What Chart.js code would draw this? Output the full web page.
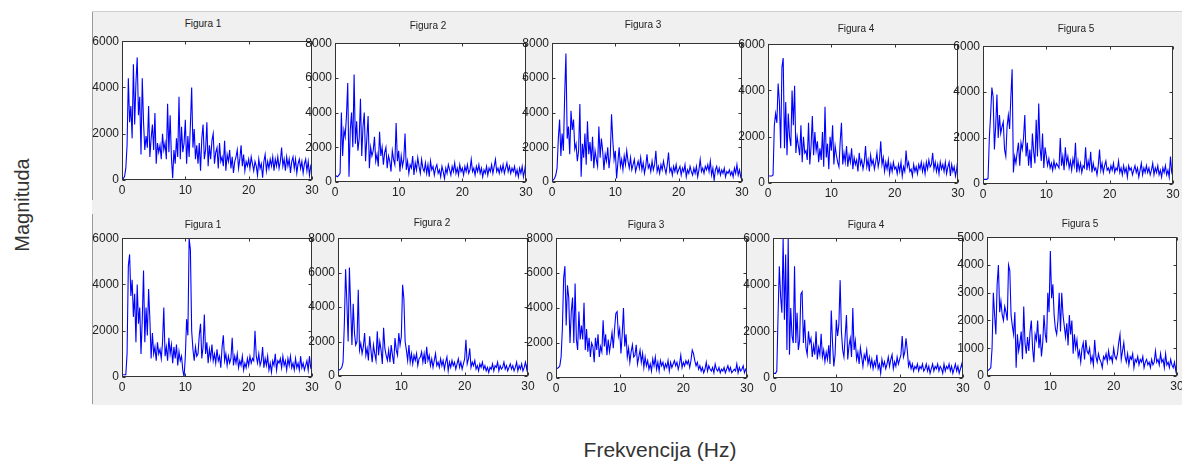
<!DOCTYPE html>
<html>
<head>
<meta charset="utf-8">
<script src="https://cdn.jsdelivr.net/npm/chart.js@4/dist/chart.umd.min.js"></script>
<style>
  html, body { margin:0; padding:0; }
  body { width:1182px; height:466px; background:#fff; position:relative; overflow:hidden; font-family:"Liberation Sans", Arial, sans-serif; }
  .bg { position:absolute; background:#f0f0f0; }
  canvas { position:absolute; }
  .ttl { position:absolute; font-size:10px; color:#222; transform:translate(-50%,-50%); white-space:nowrap; }
  #ylab { position:absolute; left:22px; top:205px; transform:translate(-50%,-50%) rotate(-90deg); font-size:20px; color:#333; white-space:nowrap; }
  #xlab { position:absolute; left:660px; top:450px; transform:translate(-50%,-50%); font-size:21px; color:#333; white-space:nowrap; }
</style>
</head>
<body>
<div class="bg" style="left:92px;top:11px;width:1090px;height:393px;border-top:1px solid #cfcfcf;"></div>
<div class="bg" style="left:92px;top:12px;width:1px;height:188px;background:#9a9a9a;"></div>
<div class="bg" style="left:92px;top:214px;width:1px;height:190px;background:#9a9a9a;"></div>
<div id="ylab">Magnituda</div>
<div id="xlab">Frekvencija (Hz)</div>
<script>
const freq = [0,0.2,0.4,0.6,0.8,1,1.2,1.4,1.6,1.8,2,2.2,2.4,2.6,2.8,3,3.2,3.4,3.6,3.8,4,4.2,4.4,4.6,4.8,5,5.2,5.4,5.6,5.8,6,6.2,6.4,6.6,6.8,7,7.2,7.4,7.6,7.8,8,8.2,8.4,8.6,8.8,9,9.2,9.4,9.6,9.8,10,10.2,10.4,10.6,10.8,11,11.2,11.4,11.6,11.8,12,12.2,12.4,12.6,12.8,13,13.2,13.4,13.6,13.8,14,14.2,14.4,14.6,14.8,15,15.2,15.4,15.6,15.8,16,16.2,16.4,16.6,16.8,17,17.2,17.4,17.6,17.8,18,18.2,18.4,18.6,18.8,19,19.2,19.4,19.6,19.8,20,20.2,20.4,20.6,20.8,21,21.2,21.4,21.6,21.8,22,22.2,22.4,22.6,22.8,23,23.2,23.4,23.6,23.8,24,24.2,24.4,24.6,24.8,25,25.2,25.4,25.6,25.8,26,26.2,26.4,26.6,26.8,27,27.2,27.4,27.6,27.8,28,28.2,28.4,28.6,28.8,29,29.2,29.4,29.6,29.8,30];

const titles = ["Figura 1","Figura 2","Figura 3","Figura 4","Figura 5","Figura 1","Figura 2","Figura 3","Figura 4","Figura 5"];
const yMax = [6000,8000,8000,6000,6000,6000,8000,8000,6000,5000];
const yStep = [2000,2000,2000,2000,2000,2000,2000,2000,2000,1000];
const xTicks = [0,10,20,30];

const top1 = [50,60,150,500,1500,4400,2500,3200,1800,5000,
 2400,4200,5300,2800,3600,1100,4400,2500,1300,1900,
 1400,3200,1000,1800,2400,1300,2900,700,1600,1200,
 1500,900,2000,1300,1600,900,3300,1200,2800,1000,
 80,1300,700,1800,1000,3600,900,2300,1200,1600,
 2600,700,1900,1000,2400,4000,1400,2200,900,1500,
 700,1600,400,1800,2400,900,1300,2500,600,1500,
 900,1700,2000,700,1200,1400,500,1600,800,1000,
 600,1700,400,1100,800,1300,500,1000,300,800,
 1000,1300,500,900,1500,600,1100,400,800,600,
 900,500,1000,700,400,800,600,200,900,500,
 700,100,800,1100,400,800,500,900,600,1000,
 400,900,600,1000,500,800,1400,600,900,400,
 1000,600,900,300,800,1000,500,900,300,700,
 900,500,800,300,700,900,400,800,200,600,
 400];
const top2 = [300,350,300,400,500,4000,1500,3000,2600,3800,
 5700,300,3000,4000,2000,6200,2200,3500,1800,2500,
 4800,1500,3200,4000,1200,2500,3800,800,2000,1500,
 1800,2600,1200,1600,900,2900,1500,2000,1000,1700,
 2000,800,1500,1200,600,1800,1300,1000,3400,1200,
 1800,600,1500,900,1300,2800,700,1200,500,1000,
 800,1500,400,1100,700,1400,900,500,1300,800,
 600,1100,500,1000,300,1200,700,900,400,800,
 1000,500,700,300,900,600,200,800,500,1000,
 700,400,900,600,1100,500,800,400,1000,600,
 800,400,900,600,1000,500,700,1300,600,800,
 400,900,600,1000,500,800,300,700,500,900,
 400,800,600,1000,500,900,1300,600,800,500,
 900,600,1000,500,800,1100,600,900,500,800,
 600,900,400,700,300,800,500,900,300,700,
 1200];
const top3 = [100,120,200,400,800,2500,3600,1500,2800,1800,
 5000,7400,2500,3200,1600,4100,3000,3600,1900,2200,
 1200,1800,4500,300,2200,1400,2800,1000,3500,1600,
 2300,1200,2600,800,1800,1300,900,3200,1400,2500,
 1800,700,1600,1200,2000,800,1500,3900,2400,1300,
 1800,200,1100,2000,900,1300,700,1500,1000,1800,
 1200,800,1400,700,1000,1300,600,900,1200,800,
 1400,700,1100,500,900,1600,800,1000,600,1200,
 700,1000,1800,600,900,500,1000,700,1200,800,
 500,1000,1700,600,800,400,900,600,1000,500,
 700,900,400,800,600,1000,300,700,500,900,
 600,400,800,500,900,300,700,1300,600,800,
 500,900,700,1000,600,1200,400,800,100,700,
 900,500,800,400,700,500,800,300,600,500,
 700,400,600,300,800,500,1000,400,700,300,
 500];
const top4 = [300,300,300,300,350,2500,3000,2600,4300,3500,
 1500,5000,5400,1500,3500,1200,3000,2000,1600,4000,
 2500,4200,1300,2000,1600,1200,2500,900,2000,1300,
 1400,1000,2600,800,1600,2900,1200,2200,1400,1800,
 900,1500,1000,2200,700,3300,1100,1700,600,2000,
 1400,2500,800,1600,1200,900,700,1800,2600,800,
 1300,900,1600,700,1200,900,1500,600,1100,800,
 1000,500,1300,800,1000,600,900,1600,700,1000,
 500,1200,800,1000,600,900,1300,700,1000,1800,
 800,1100,500,900,600,1000,400,800,500,900,
 600,700,400,800,500,900,300,700,500,1400,
 700,900,500,600,300,800,500,700,400,800,
 600,900,500,800,400,900,600,1000,700,800,
 1300,600,900,500,800,400,900,600,800,500,
 900,400,700,900,300,800,500,700,300,600,
 1100];
const top5 = [200,200,200,200,250,2000,3000,4200,3800,1500,
 2500,3900,2000,3000,2200,2500,2700,1500,1200,2500,
 3000,2400,3800,5000,500,1200,900,1400,1800,800,
 1800,1500,2000,3000,1200,1800,800,1500,700,2200,
 1400,900,2800,1200,3500,1600,1000,2200,700,1600,
 1200,800,1100,700,900,600,1000,700,900,800,
 700,2000,800,1200,600,1600,900,1200,700,1000,
 600,1100,800,1800,500,1000,600,900,500,800,
 700,1600,600,1000,700,1400,500,900,600,700,
 400,800,1500,600,900,500,800,1000,600,700,
 500,800,600,900,500,700,600,1000,500,700,
 400,800,500,700,300,800,600,700,400,600,
 800,500,700,300,600,900,400,700,500,800,
 500,700,400,600,900,400,700,500,800,400,
 600,300,700,500,800,400,600,300,1200,500,
 300];
const bot1 = [100,100,100,100,1000,4800,5300,3500,4200,2600,
 3600,1500,4000,2300,3000,1000,2500,4600,1500,3000,
 1800,3800,2500,800,1900,1000,1300,700,1500,1000,
 1200,800,1500,3000,900,1300,700,1700,1000,1400,
 600,1300,800,1400,500,1100,700,900,300,0,
 900,2500,1800,6000,5500,2000,1200,700,1300,900,
 1000,1800,2300,800,1300,2700,1000,1500,600,1200,
 800,1400,700,1000,600,1200,700,900,400,1300,
 1800,700,1000,500,900,600,800,1700,500,900,
 600,1000,400,700,500,900,300,600,400,800,
 500,900,600,800,700,2000,900,600,1000,500,
 700,1300,400,800,500,900,300,600,200,700,
 500,1000,300,700,600,800,400,900,500,700,
 300,800,500,900,400,600,300,800,400,600,
 300,900,400,600,300,500,700,300,900,400,
 500];
const bot2 = [300,350,400,500,800,3000,6200,4300,2000,6300,
 4000,1800,4200,2500,1800,2000,5000,1500,1900,1300,
 1700,2500,1200,1600,900,2300,1500,800,1800,1300,
 900,2600,1200,2000,1500,700,2800,1600,1200,900,
 1500,800,1800,1200,700,2200,1500,1200,2500,1800,
 2300,5300,4500,2000,1500,900,1800,800,1300,700,
 1200,900,1300,600,1000,1100,1400,800,1300,700,
 1700,900,1200,600,1000,500,900,1300,600,800,
 500,1000,600,900,400,800,1100,300,800,500,
 900,600,800,400,700,1000,500,800,400,700,
 1000,2100,700,1000,1600,500,800,600,900,400,
 600,300,700,500,800,400,600,300,500,200,
 500,400,700,300,600,500,800,300,600,400,
 500,800,400,600,300,500,700,400,600,300,
 500,800,300,600,400,700,300,500,800,400,
 900];
const bot3 = [500,550,600,700,1200,2800,5700,6400,3000,5300,
 4600,2000,3800,4600,2000,5400,2200,1600,3800,2200,
 3000,2200,4300,1600,2800,1500,2300,1200,2000,1800,
 900,2300,1600,2500,1200,1800,1500,3300,1800,2500,
 1300,2200,1500,2000,2600,1700,2800,3700,3800,2400,
 2800,1400,2500,4000,1800,2500,1200,1700,900,1500,
 1900,1200,1300,1900,800,1200,1600,900,1400,600,
 1200,700,1000,500,800,400,1100,700,1200,500,
 900,400,1000,700,900,500,800,600,1000,400,
 900,600,800,1000,700,900,500,800,1300,600,
 900,700,1000,800,1000,600,1000,1600,1400,1000,
 700,900,500,700,400,600,300,500,900,400,
 700,500,400,600,300,800,500,400,600,300,
 500,400,600,300,500,700,400,600,300,400,
 500,400,800,300,600,400,500,700,300,500,
 400];
const bot4 = [200,200,200,300,2700,4800,3500,2800,6000,2500,
 5300,1200,6000,1000,3000,1800,1500,4800,1500,2800,
 1200,1600,3600,3700,1500,2500,1300,1000,2000,1500,
 1700,900,1400,1000,2000,800,1300,1000,1900,900,
 1200,700,1100,800,1400,600,2900,1500,500,1000,
 2500,1800,2300,4200,2000,1200,900,1800,2700,800,
 1400,1700,900,3000,1200,1600,800,1100,600,1300,
 900,500,1000,800,1200,600,900,500,800,400,
 700,500,1000,400,600,200,800,500,700,400,
 600,900,500,800,1000,400,700,500,900,600,
 800,1000,1800,900,1100,1700,1200,500,700,400,
 600,300,500,400,600,300,500,400,600,300,
 400,600,300,500,200,400,600,300,500,400,
 600,300,500,400,200,600,300,500,400,600,
 300,500,200,400,600,300,500,200,400,600,
 300];
const bot5 = [200,200,250,300,1000,3000,2200,1500,3300,4000,
 2300,2700,2200,2000,2500,2300,2000,4000,3800,2200,
 1800,1500,2300,300,1500,900,1200,1600,600,2500,
 1200,800,1400,900,1600,2000,1000,500,1500,1300,
 2000,1000,1500,700,1200,2200,1500,1200,3000,2300,
 4500,2800,3300,2200,1700,1500,2000,3000,1600,3000,
 2200,1800,1400,1900,1100,2200,1500,2000,800,1500,
 1000,1300,700,900,500,1000,1200,600,1300,900,
 800,1000,500,700,400,1300,700,500,800,600,
 500,300,700,600,800,500,900,600,700,500,
 1000,700,600,800,1200,1500,600,900,1200,700,
 500,800,400,700,600,800,300,600,500,700,
 400,600,500,700,300,500,600,400,500,300,
 600,400,500,900,500,600,400,800,500,600,
 300,800,400,500,300,600,400,300,500,200,
 500];

const series = [top1, top2, top3, top4, top5, bot1, bot2, bot3, bot4, bot5];

// plot-area rectangles [left, top, right, bottom] and title centres
const areas = [
  [122,41,312,180],[335,43,526,182],[552,43,742,182],[768,44,958,183],[983,46,1173,184],
  [122,238,312,377],[338,238,528,376],[556,238,747,378],[773,238,963,378],[987,237,1177,376]
];
const titlePos = [
  [203,23],[428,25],[643,24],[856,28],[1076,28],
  [203,224],[432,222],[646,224],[866,224],[1080,223]
];

const YW = 40, XH = 20, PT = 10, PR = 12;

const framePlugin = {
  id: 'frameBox',
  beforeDraw(c) {
    const a = c.chartArea, ctx = c.ctx;
    ctx.save();
    ctx.fillStyle = '#ffffff';
    ctx.fillRect(a.left, a.top, a.right - a.left, a.bottom - a.top);
    ctx.restore();
  },
  afterDraw(c) {
    const a = c.chartArea, ctx = c.ctx;
    const L = Math.round(a.left) + 0.5, R = Math.round(a.right) - 0.5;
    const T = Math.round(a.top) + 0.5, B = Math.round(a.bottom) - 0.5;
    ctx.save();
    ctx.strokeStyle = '#333333';
    ctx.lineWidth = 1;
    ctx.strokeRect(L, T, R - L, B - T);
    ctx.beginPath();
    c.scales.x.ticks.forEach(t => {
      const px = Math.round(c.scales.x.getPixelForValue(t.value)) + 0.5;
      ctx.moveTo(px, B); ctx.lineTo(px, B - 3);
      ctx.moveTo(px, T); ctx.lineTo(px, T + 3);
    });
    c.scales.y.ticks.forEach(t => {
      const py = Math.round(c.scales.y.getPixelForValue(t.value)) + 0.5;
      ctx.moveTo(L, py); ctx.lineTo(L + 3, py);
      ctx.moveTo(R, py); ctx.lineTo(R - 3, py);
    });
    ctx.stroke();
    ctx.restore();
  }
};

series.forEach((vals, k) => {
  const [l, t, r, b] = areas[k];
  const cv = document.createElement('canvas');
  const w = YW + (r - l) + PR, h = PT + (b - t) + XH;
  cv.width = w; cv.height = h;
  cv.style.left = (l - YW) + 'px';
  cv.style.top = (t - PT) + 'px';
  cv.style.width = w + 'px'; cv.style.height = h + 'px';
  document.body.appendChild(cv);

  const tt = document.createElement('div');
  tt.className = 'ttl';
  tt.textContent = titles[k];
  tt.style.left = titlePos[k][0] + 'px';
  tt.style.top = titlePos[k][1] + 'px';
  document.body.appendChild(tt);

  new Chart(cv, {
    type: 'line',
    data: {
      datasets: [{
        data: vals.map((v, i) => ({ x: freq[i], y: v })),
        borderColor: '#0000ff',
        borderWidth: 1.1,
        pointRadius: 0,
        tension: 0,
        fill: false
      }]
    },
    options: {
      responsive: false,
      animation: false,
      devicePixelRatio: 1,
      layout: { padding: { left: 0, top: PT, right: PR, bottom: 0 } },
      plugins: { legend: { display: false }, tooltip: { enabled: false }, title: { display: false } },
      scales: {
        x: {
          type: 'linear', min: 0, max: 30,
          afterBuildTicks: s => { s.ticks = xTicks.map(v => ({ value: v })); },
          afterFit: s => { s.height = XH; },
          grid: { display: false, drawTicks: false }, border: { display: false },
          ticks: { color: '#222', padding: 3, maxRotation: 0, autoSkip: false,
                   callback: v => String(v),
                   font: { family: 'Liberation Sans', size: 12 } }
        },
        y: {
          min: 0, max: yMax[k],
          afterFit: s => { s.width = YW; },
          grid: { display: false, drawTicks: false }, border: { display: false },
          ticks: { stepSize: yStep[k], color: '#222', padding: 3, autoSkip: false,
                   callback: v => String(v),
                   font: { family: 'Liberation Sans', size: 12 } }
        }
      }
    },
    plugins: [framePlugin]
  });
});
</script>
</body>
</html>
